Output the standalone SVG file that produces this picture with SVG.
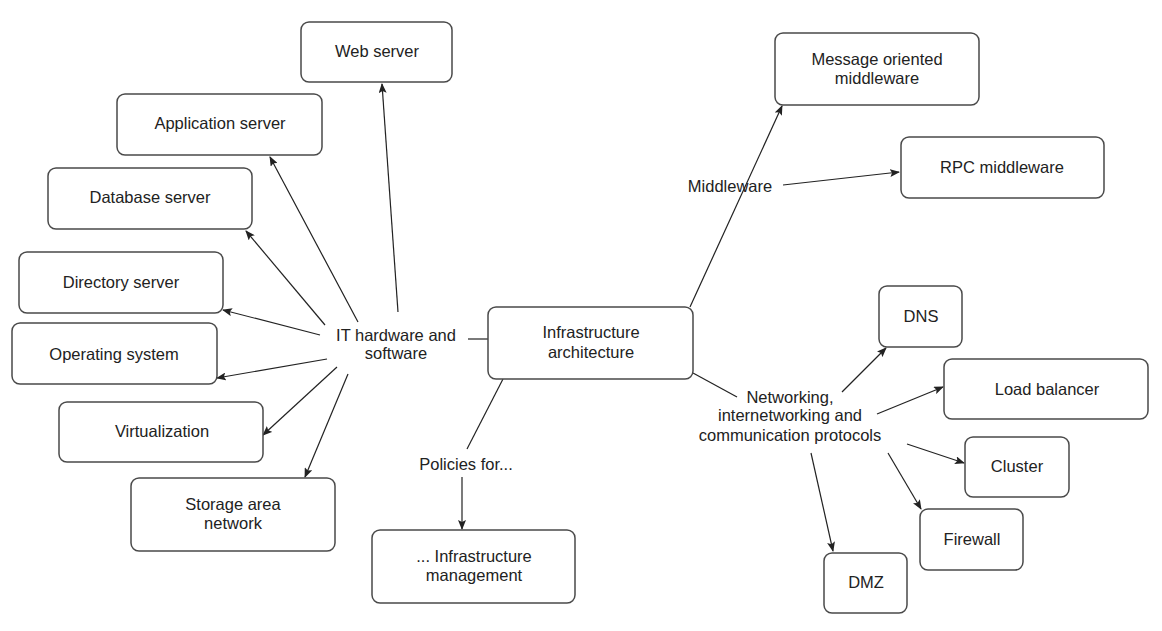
<svg xmlns="http://www.w3.org/2000/svg" width="1162" height="631" viewBox="0 0 1162 631">
<style>
.box{fill:#fff;stroke:#4a4a4a;stroke-width:1.5}
.t{font-family:"Liberation Sans",Arial,sans-serif;font-size:16.5px;fill:#222;text-anchor:middle}
.c{stroke:#222;stroke-width:1.2;fill:none}
.a{marker-end:url(#ah)}
</style>
<defs>
<marker id="ah" markerWidth="10" markerHeight="8" refX="9" refY="4" orient="auto" markerUnits="userSpaceOnUse">
<path d="M0,0 L10,4 L0,8 L2,4 Z" fill="#222"/>
</marker>
</defs>
<rect width="1162" height="631" fill="#fff"/>
<g id="connectors">
<line class="c a" x1="398" y1="312" x2="382" y2="84"/>
<line class="c a" x1="358" y1="322" x2="270" y2="157"/>
<line class="c a" x1="325" y1="325" x2="246" y2="231"/>
<line class="c a" x1="320" y1="335" x2="223" y2="310"/>
<line class="c a" x1="327" y1="359" x2="217" y2="378"/>
<line class="c a" x1="337" y1="367" x2="263" y2="435"/>
<line class="c a" x1="348" y1="374" x2="305" y2="477"/>
<line class="c" x1="468" y1="339" x2="490" y2="339"/>
<line class="c" x1="503" y1="379" x2="467" y2="449"/>
<line class="c a" x1="462" y1="477" x2="462" y2="529"/>
<line class="c a" x1="690" y1="307" x2="782" y2="106"/>
<line class="c a" x1="783" y1="185" x2="899" y2="172"/>
<line class="c" x1="693" y1="373" x2="737" y2="397"/>
<line class="c a" x1="842" y1="392" x2="886" y2="348"/>
<line class="c a" x1="877" y1="414" x2="943" y2="387"/>
<line class="c a" x1="907" y1="444" x2="964" y2="463"/>
<line class="c a" x1="888" y1="453" x2="921" y2="509"/>
<line class="c a" x1="811" y1="453" x2="833" y2="551"/>
</g>
<g id="web-server"><rect class="box" x="301" y="22" width="151" height="60" rx="8"/><text class="t" x="377" y="57">Web server</text></g>
<g id="application-server"><rect class="box" x="117" y="94" width="205" height="61" rx="8"/><text class="t" x="220" y="129">Application server</text></g>
<g id="database-server"><rect class="box" x="48" y="168" width="204" height="61" rx="8"/><text class="t" x="150" y="203">Database server</text></g>
<g id="directory-server"><rect class="box" x="19" y="252" width="204" height="61" rx="8"/><text class="t" x="121" y="288">Directory server</text></g>
<g id="operating-system"><rect class="box" x="12" y="323" width="205" height="61" rx="8"/><text class="t" x="114" y="360">Operating system</text></g>
<g id="virtualization"><rect class="box" x="59" y="402" width="204" height="60" rx="8"/><text class="t" x="162" y="437">Virtualization</text></g>
<g id="storage-area-network"><rect class="box" x="131" y="478" width="204" height="73" rx="8"/><text class="t" x="233" y="510">Storage area</text><text class="t" x="233" y="529">network</text></g>
<g id="it-hardware"><text class="t" x="396" y="341">IT hardware and</text><text class="t" x="396" y="359">software</text></g>
<g id="infrastructure-architecture"><rect class="box" x="488" y="307" width="205" height="72" rx="8"/><text class="t" x="591" y="338">Infrastructure</text><text class="t" x="591" y="358">architecture</text></g>
<g id="policies"><text class="t" x="466" y="470">Policies for...</text></g>
<g id="infrastructure-management"><rect class="box" x="372" y="530" width="203" height="73" rx="8"/><text class="t" x="474" y="562">... Infrastructure</text><text class="t" x="474" y="581">management</text></g>
<g id="message-oriented-middleware"><rect class="box" x="775" y="33" width="204" height="72" rx="8"/><text class="t" x="877" y="65">Message oriented</text><text class="t" x="877" y="84">middleware</text></g>
<g id="middleware"><text class="t" x="730" y="192">Middleware</text></g>
<g id="rpc-middleware"><rect class="box" x="901" y="137" width="203" height="61" rx="8"/><text class="t" x="1002" y="173">RPC middleware</text></g>
<g id="networking"><text class="t" x="790" y="403">Networking,</text><text class="t" x="790" y="421">internetworking and</text><text class="t" x="790" y="441">communication protocols</text></g>
<g id="dns"><rect class="box" x="879" y="286" width="83" height="61" rx="8"/><text class="t" x="921" y="322">DNS</text></g>
<g id="load-balancer"><rect class="box" x="944" y="359" width="204" height="60" rx="8"/><text class="t" x="1047" y="395">Load balancer</text></g>
<g id="cluster"><rect class="box" x="965" y="437" width="104" height="60" rx="8"/><text class="t" x="1017" y="472">Cluster</text></g>
<g id="firewall"><rect class="box" x="920" y="509" width="103" height="61" rx="8"/><text class="t" x="972" y="545">Firewall</text></g>
<g id="dmz"><rect class="box" x="824" y="553" width="83" height="60" rx="8"/><text class="t" x="866" y="588">DMZ</text></g>
</svg>
